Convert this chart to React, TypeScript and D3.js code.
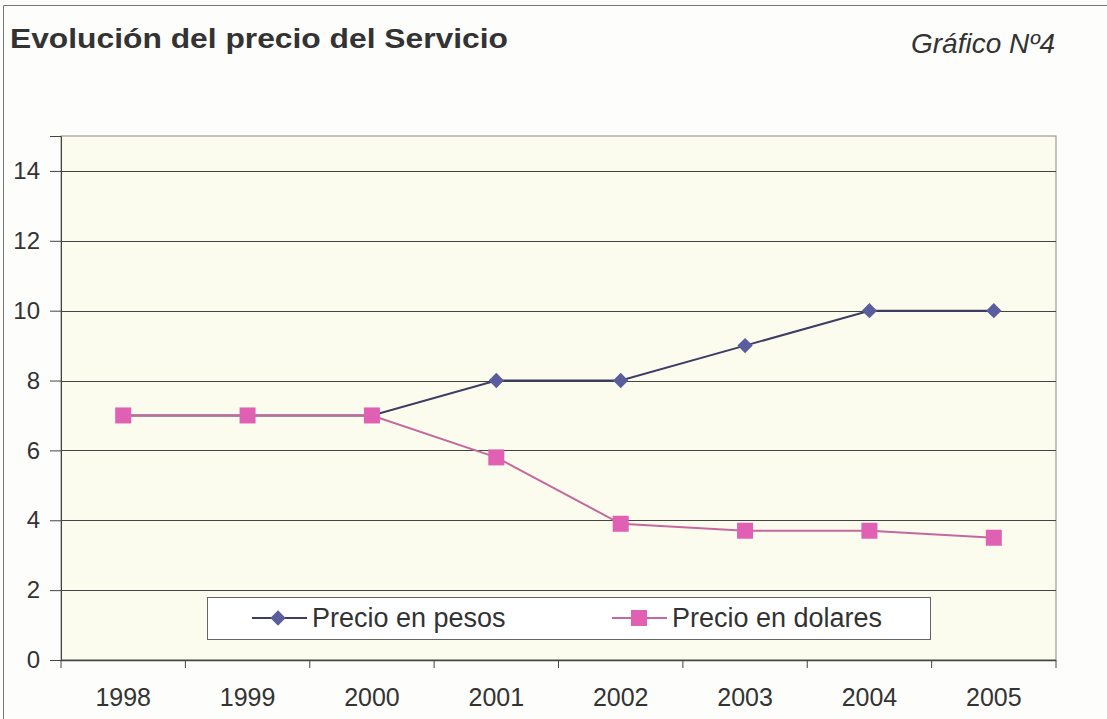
import React, { useRef, useEffect } from 'react';
import * as d3 from 'd3';

// Chart data
const years: string[] = ['1998', '1999', '2000', '2001', '2002', '2003', '2004', '2005'];
const pesos: number[] = [7, 7, 7, 8, 8, 9, 10, 10];
const dolares: number[] = [7, 7, 7, 5.8, 3.9, 3.7, 3.7, 3.5];
const yTicks: number[] = [0, 2, 4, 6, 8, 10, 12, 14];
const seriesNames: string[] = ['Precio en pesos', 'Precio en dolares'];

const W = 1107;
const H = 719;

const App = () => {
  const ref = useRef<SVGSVGElement | null>(null);

  useEffect(() => {
    if (!ref.current) return;
    const svg = d3.select(ref.current);
    svg.selectAll('*').remove();

    const font = '"Liberation Sans", Arial, sans-serif';
    const margin = { top: 136, right: 51, bottom: 59, left: 61 };
    const innerW = W - margin.left - margin.right;
    const innerH = H - margin.top - margin.bottom;

    // page background + outer frame (left and top edges visible)
    svg.append('rect').attr('width', W).attr('height', H).attr('fill', '#fdfdfb');
    svg
      .append('path')
      .attr('d', `M3.5,${H} V5.5 H${W}`)
      .attr('fill', 'none')
      .attr('stroke', '#777')
      .attr('stroke-width', 1);

    // titles
    svg
      .append('text')
      .attr('x', 10)
      .attr('y', 48)
      .attr('font-family', font)
      .attr('font-weight', 'bold')
      .attr('font-size', 28)
      .attr('textLength', 498)
      .attr('lengthAdjust', 'spacingAndGlyphs')
      .attr('fill', '#333')
      .text('Evolución del precio del Servicio');
    svg
      .append('text')
      .attr('x', 1055)
      .attr('y', 53)
      .attr('text-anchor', 'end')
      .attr('font-family', font)
      .attr('font-style', 'italic')
      .attr('font-size', 28)
      .attr('fill', '#333')
      .text('Gráfico Nº4');

    const x = d3.scaleBand<string>().domain(years).range([0, innerW]).padding(0);
    const y = d3.scaleLinear().domain([0, 15]).range([innerH, 0]);
    const cx = (d: string) => (x(d) ?? 0) + x.bandwidth() / 2;

    const g = svg.append('g').attr('transform', `translate(${margin.left},${margin.top})`);

    // plot area
    g.append('rect')
      .attr('width', innerW)
      .attr('height', innerH)
      .attr('fill', '#fcfcee')
      .attr('stroke', '#888')
      .attr('stroke-width', 1);

    // gridlines
    g.selectAll('.grid')
      .data(yTicks.slice(1))
      .enter()
      .append('line')
      .attr('x1', 0)
      .attr('x2', innerW)
      .attr('y1', (d) => Math.round(y(d)) + 0.5)
      .attr('y2', (d) => Math.round(y(d)) + 0.5)
      .attr('stroke', '#444')
      .attr('stroke-width', 1.2);

    // y axis
    const yAxis = g
      .append('g')
      .call(d3.axisLeft(y).tickValues(yTicks).tickSize(11).tickPadding(10).tickFormat(d3.format('d')));
    yAxis.select('.domain').attr('stroke', '#444');
    yAxis.selectAll('line').attr('stroke', '#444');
    yAxis
      .selectAll('text')
      .attr('font-family', font)
      .attr('font-size', 24)
      .attr('fill', '#333');

    // x axis: ticks on band edges
    const xAxisG = g.append('g').attr('transform', `translate(0,${innerH})`);
    xAxisG
      .append('line')
      .attr('x1', 0)
      .attr('x2', innerW)
      .attr('y1', 0.5)
      .attr('y2', 0.5)
      .attr('stroke', '#444')
      .attr('stroke-width', 1.5);
    const edges = years.map((d) => x(d) ?? 0).concat([innerW]);
    xAxisG
      .selectAll('.xt')
      .data(edges)
      .enter()
      .append('line')
      .attr('x1', (d) => d)
      .attr('x2', (d) => d)
      .attr('y1', 0)
      .attr('y2', 8)
      .attr('stroke', '#444');
    xAxisG
      .selectAll('.xl')
      .data(years)
      .enter()
      .append('text')
      .attr('x', (d) => cx(d))
      .attr('y', 46)
      .attr('text-anchor', 'middle')
      .attr('font-family', font)
      .attr('font-size', 25)
      .attr('fill', '#333')
      .text((d) => d);

    const pesosColor = '#5b5e9e';
    const pesosLine = '#3c3c64';
    const dolColor = '#e060b4';
    const dolLine = '#c5689e';

    const line = d3
      .line<number>()
      .x((_, i) => cx(years[i]))
      .y((d) => y(d));

    const diamond = d3.symbol().type(d3.symbolDiamond2).size(150);

    // pesos series
    g.append('path')
      .datum(pesos)
      .attr('d', line)
      .attr('fill', 'none')
      .attr('stroke', pesosLine)
      .attr('stroke-width', 2);
    g.selectAll('.pm')
      .data(pesos)
      .enter()
      .append('path')
      .attr('d', diamond)
      .attr('transform', (d, i) => `translate(${cx(years[i])},${y(d)})`)
      .attr('fill', pesosColor);

    // dolares series
    g.append('path')
      .datum(dolares)
      .attr('d', line)
      .attr('fill', 'none')
      .attr('stroke', dolLine)
      .attr('stroke-width', 2);
    g.selectAll('.dm')
      .data(dolares)
      .enter()
      .append('rect')
      .attr('x', (d, i) => cx(years[i]) - 8)
      .attr('y', (d) => y(d) - 8)
      .attr('width', 16)
      .attr('height', 16)
      .attr('fill', dolColor);

    // legend
    const lg = svg.append('g').attr('transform', 'translate(207,597)');
    lg.append('rect')
      .attr('x', 0.5)
      .attr('y', 0.5)
      .attr('width', 723)
      .attr('height', 42)
      .attr('fill', '#ffffff')
      .attr('stroke', '#666');

    const items = [
      { name: seriesNames[0], color: pesosColor, lineColor: pesosLine, x0: 45, shape: 'diamond' },
      { name: seriesNames[1], color: dolColor, lineColor: dolLine, x0: 405, shape: 'square' },
    ];
    items.forEach((it) => {
      const ig = lg.append('g').attr('transform', `translate(${it.x0},21)`);
      ig.append('line')
        .attr('x1', 0)
        .attr('x2', 55)
        .attr('y1', 0)
        .attr('y2', 0)
        .attr('stroke', it.lineColor)
        .attr('stroke-width', 2);
      if (it.shape === 'diamond') {
        ig.append('path').attr('d', diamond).attr('transform', 'translate(26,0)').attr('fill', it.color);
      } else {
        ig.append('rect').attr('x', 19).attr('y', -8).attr('width', 16).attr('height', 16).attr('fill', it.color);
      }
      ig.append('text')
        .attr('x', 60)
        .attr('y', 9)
        .attr('font-family', font)
        .attr('font-size', 27)
        .attr('fill', '#333')
        .text(it.name);
    });
  }, []);

  return (
    <div style={{ position: 'absolute', left: 0, top: 0 }}>
      <svg ref={ref} width={W} height={H} style={{ display: 'block' }} />
    </div>
  );
};

export default App;
